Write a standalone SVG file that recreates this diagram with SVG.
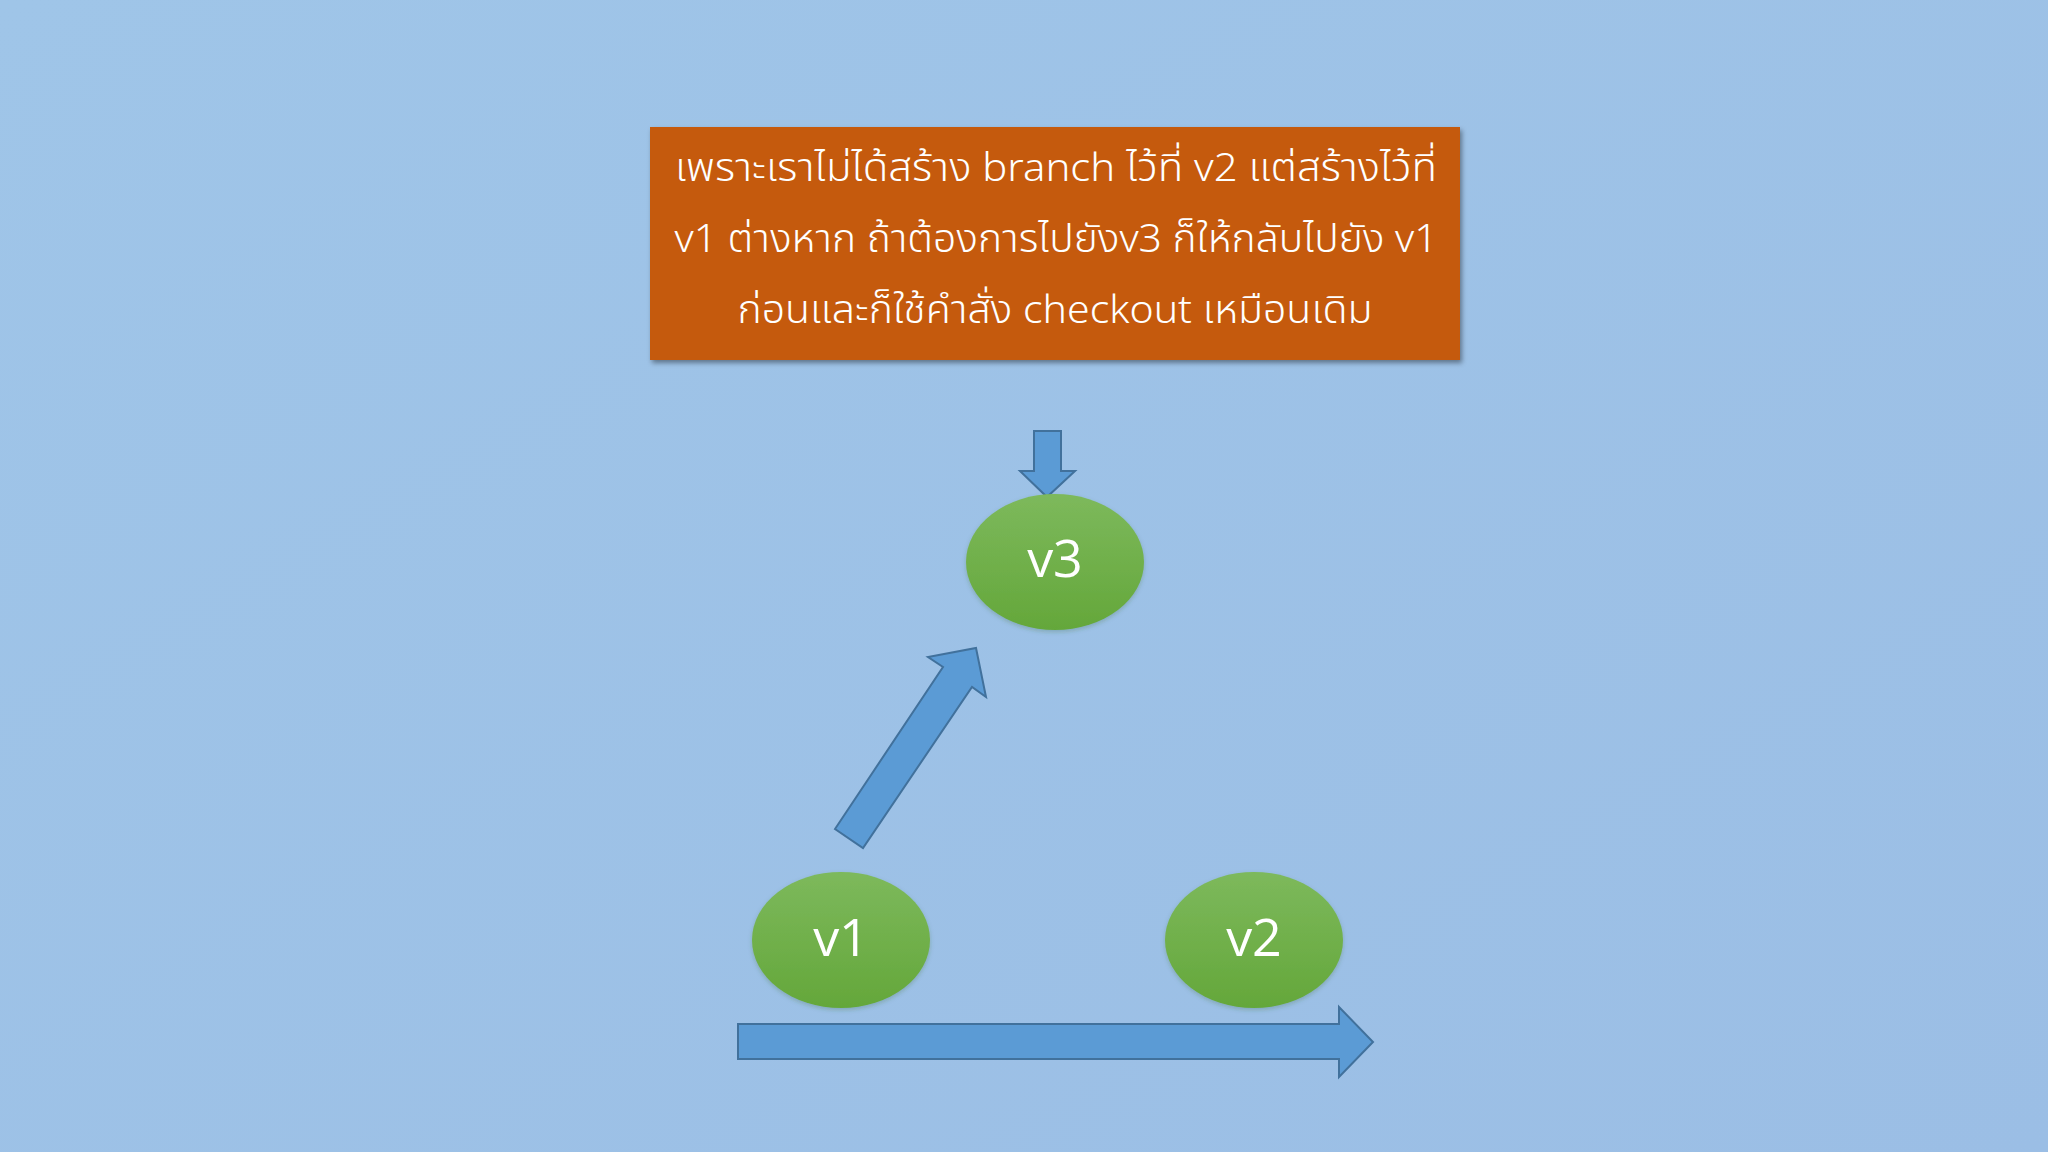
<svg xmlns="http://www.w3.org/2000/svg" width="2048" height="1152" viewBox="0 0 2048 1152">
  <defs>
    <linearGradient id="bg" x1="0" y1="0" x2="1" y2="1">
      <stop offset="0" stop-color="#9FC5E8"/>
      <stop offset="1" stop-color="#9BBEE5"/>
    </linearGradient>
    <linearGradient id="green" x1="0" y1="0" x2="0" y2="1">
      <stop offset="0" stop-color="#7DB95C"/>
      <stop offset="1" stop-color="#64A73A"/>
    </linearGradient>
    <filter id="shadow" x="-5%" y="-5%" width="110%" height="115%">
      <feDropShadow dx="2" dy="3" stdDeviation="2.5" flood-color="#000" flood-opacity="0.4"/>
    </filter>
    <filter id="eshadow" x="-10%" y="-10%" width="120%" height="125%">
      <feDropShadow dx="0" dy="2" stdDeviation="2" flood-color="#2a5a20" flood-opacity="0.25"/>
    </filter>
  </defs>
  <style>
    .arrow { fill: #5B9BD5; stroke: #41719C; stroke-width: 2; stroke-linejoin: miter; }
    .node { fill: url(#green); filter: url(#eshadow); }
    .nlabel { font-family: "Open Sans", "Noto Sans", "DejaVu Sans", sans-serif; font-size: 52px; fill: #FFFFFF; text-anchor: middle; }
    .note { font-family: "Noto Sans Thai", "Leelawadee UI", "Tahoma", "DejaVu Sans", "Noto Sans", sans-serif; font-size: 39px; font-weight: 300; fill: #FFFFFF; text-anchor: middle; }
  </style>
  <rect x="0" y="0" width="2048" height="1152" fill="url(#bg)"/>

  <g id="note">
    <rect x="650" y="127" width="810" height="233" fill="#C55A11" filter="url(#shadow)"/>
    <text class="note" x="1056" y="181" textLength="762" lengthAdjust="spacingAndGlyphs">เพราะเราไม่ได้สร้าง branch ไว้ที่ v2 แต่สร้างไว้ที่</text>
    <text class="note" x="1056" y="252" textLength="763" lengthAdjust="spacingAndGlyphs">v1 ต่างหาก ถ้าต้องการไปยังv3 ก็ให้กลับไปยัง v1</text>
    <text class="note" x="1055" y="323" textLength="635" lengthAdjust="spacingAndGlyphs">ก่อนและก็ใช้คำสั่ง checkout เหมือนเดิม</text>
  </g>

  <g id="connectors">
    <polygon class="arrow" points="1034,431 1061,431 1061,471 1075,471 1047,497 1020,471 1034,471"/>
    <polygon class="arrow" points="835,829 943,667 928,657 976,648 986,697 972,687 863,848"/>
    <polygon class="arrow" points="738,1024 1339,1024 1339,1007 1373,1042 1339,1077 1339,1059 738,1059"/>
  </g>

  <g id="v3">
    <ellipse class="node" cx="1055" cy="562" rx="89" ry="68"/>
    <text class="nlabel" x="1055" y="577">v3</text>
  </g>
  <g id="v1">
    <ellipse class="node" cx="841" cy="940" rx="89" ry="68"/>
    <text class="nlabel" x="841" y="956">v1</text>
  </g>
  <g id="v2">
    <ellipse class="node" cx="1254" cy="940" rx="89" ry="68"/>
    <text class="nlabel" x="1254" y="956">v2</text>
  </g>
</svg>
